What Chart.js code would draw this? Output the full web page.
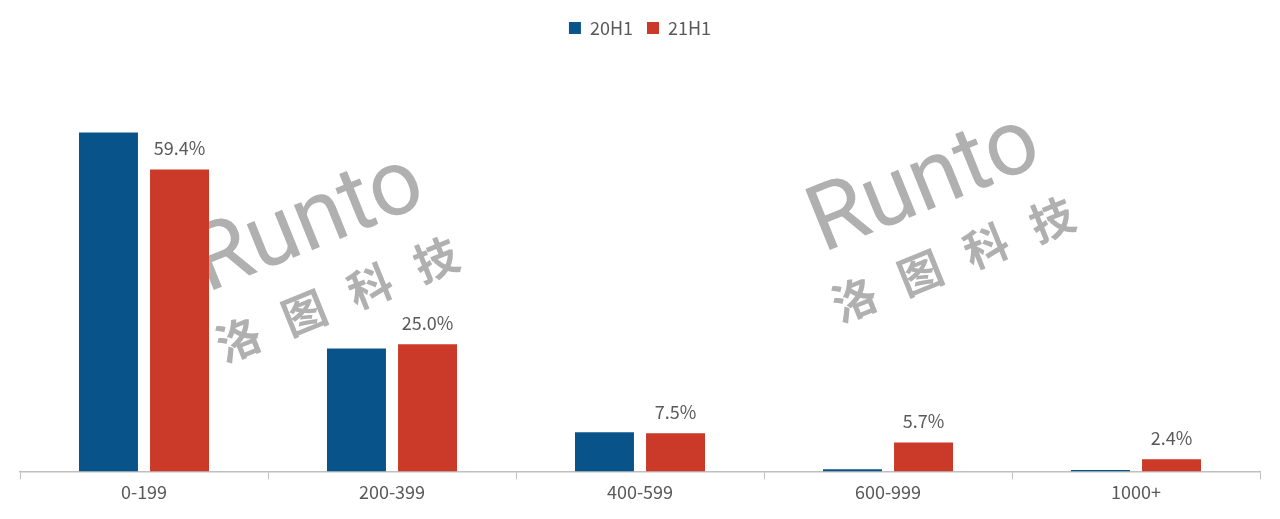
<!DOCTYPE html>
<html>
<head>
<meta charset="utf-8">
<script src="https://cdn.jsdelivr.net/npm/chart.js@4.4.1/dist/chart.umd.min.js"></script>
<style>
    body { margin: 0; background: #fff; }
    #wrap { width: 1280px; height: 519px; }
</style>
</head>
<body>
<div id="wrap"><canvas id="priceChart"></canvas></div>
<script>
// price bands and share per half-year (%)
const categories = ['0-199', '200-399', '400-599', '600-999', '1000+'];
const share20H1 = [66.7, 24.2, 7.7, 0.4, 0.3];
const share21H1 = [59.4, 25.0, 7.5, 5.7, 2.4];
const labels21H1 = ['59.4%', '25.0%', '7.5%', '5.7%', '2.4%'];

const blue = '#08548a';
const red = '#cb3a29';
const fontFamily = '"Noto Sans CJK SC", "DejaVu Sans", sans-serif';

// faint logo behind the bars
const watermarkPlugin = {
    id: 'watermark',
    beforeDatasetsDraw(chart) {
        const ctx = chart.ctx;
        const spots = [[322, 258], [938, 218]];
        const chars = ['洛', '图', '科', '技'];
        ctx.save();
        ctx.fillStyle = 'rgba(150, 150, 150, 0.75)';
        for (let [x, y] of spots) {
            ctx.save();
            ctx.translate(x, y);
            ctx.rotate(-22 * Math.PI / 180);
            ctx.textAlign = 'center';
            ctx.textBaseline = 'middle';
            ctx.font = '400 92px Roboto, sans-serif';
            ctx.fillText('Runto', 0, -34);
            ctx.font = 'bold 44px "Noto Sans CJK SC", sans-serif';
            chars.forEach((c, i) => ctx.fillText(c, -108 + i * 71, 44));
            ctx.restore();
        }
        ctx.restore();
    }
};

// value labels above the 21H1 bars
const valueLabelPlugin = {
    id: 'valueLabels',
    afterDatasetsDraw(chart) {
        const ctx = chart.ctx;
        const meta = chart.getDatasetMeta(1);
        ctx.save();
        ctx.fillStyle = '#595959';
        ctx.font = '18px ' + fontFamily;
        ctx.textAlign = 'center';
        ctx.textBaseline = 'bottom';
        meta.data.forEach((bar, i) => {
            ctx.fillText(labels21H1[i], bar.x, bar.y - 12);
        });
        ctx.restore();
    }
};

new Chart(document.getElementById('priceChart').getContext('2d'), {
    type: 'bar',
    data: {
        labels: categories,
        datasets: [
            { label: '20H1', data: share20H1, backgroundColor: blue },
            { label: '21H1', data: share21H1, backgroundColor: red }
        ]
    },
    options: {
        responsive: true,
        maintainAspectRatio: false,
        animation: false,
        categoryPercentage: 0.573,
        barPercentage: 0.83,
        layout: { padding: { left: 20, right: 20, top: 5, bottom: 14 } },
        plugins: {
            legend: {
                position: 'top',
                labels: {
                    boxWidth: 12,
                    boxHeight: 12,
                    color: '#595959',
                    font: { size: 18, family: fontFamily },
                    padding: 14
                }
            },
            tooltip: { enabled: false }
        },
        scales: {
            x: {
                grid: {
                    offset: true,
                    drawOnChartArea: false,
                    tickLength: 8,
                    color: '#bfbfbf'
                },
                border: { color: '#bfbfbf', width: 1.5 },
                ticks: {
                    color: '#595959',
                    font: { size: 18, family: fontFamily },
                    padding: 2
                }
            },
            y: {
                display: false,
                min: 0,
                max: 83.5
            }
        }
    },
    plugins: [watermarkPlugin, valueLabelPlugin]
});
</script>
</body>
</html>
